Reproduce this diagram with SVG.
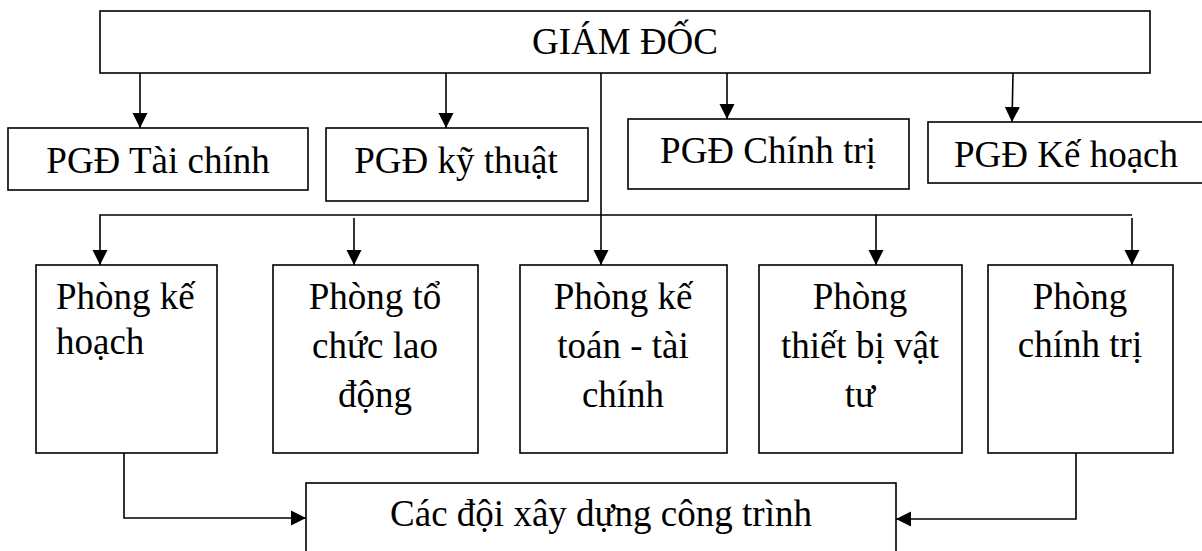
<svg xmlns="http://www.w3.org/2000/svg" width="1202" height="551" viewBox="0 0 1202 551">
  <style>
    .box { fill: #ffffff; stroke: #000000; stroke-width: 1.6; }
    .lbl { font-family: "Liberation Serif", "Times New Roman", serif; font-size: 37px; fill: #000000; }
    .mid { text-anchor: middle; }
    .wire { fill: none; stroke: #000000; stroke-width: 1.6; }
    .arr { marker-end: url(#head); }
  </style>
  <defs>
    <marker id="head" markerUnits="userSpaceOnUse" markerWidth="16" markerHeight="16" viewBox="0 0 16 16" refX="15" refY="8" orient="auto">
      <path d="M0,0.5 L15,8 L0,15.5 Z" fill="#000000"/>
    </marker>
  </defs>

  <!-- connectors -->
  <g id="connectors">
    <!-- director to deputy directors -->
    <line class="wire arr" x1="140" y1="73" x2="140" y2="128"/>
    <line class="wire arr" x1="446" y1="73" x2="446" y2="128"/>
    <line class="wire arr" x1="727" y1="73" x2="727" y2="119"/>
    <line class="wire arr" x1="1013" y1="73" x2="1012" y2="122"/>
    <!-- director trunk down to departments -->
    <line class="wire arr" x1="601" y1="73" x2="601" y2="265"/>
    <polyline class="wire arr" points="1132,215 100,215 100,265"/>
    <line class="wire arr" x1="354" y1="218" x2="354" y2="265"/>
    <line class="wire arr" x1="876" y1="215" x2="876" y2="265"/>
    <line class="wire arr" x1="1132" y1="218" x2="1132" y2="265"/>
    <!-- departments to construction teams -->
    <polyline class="wire arr" points="124,453 124,518 306,518"/>
    <polyline class="wire arr" points="1076,453 1076,519 896,519"/>
  </g>

  <g id="giam-doc">
    <rect class="box" x="100" y="11" width="1050" height="62"/>
    <text class="lbl mid" x="625" y="54">GIÁM ĐỐC</text>
  </g>

  <g id="pgd-tai-chinh">
    <rect class="box" x="8" y="128" width="300" height="62"/>
    <text class="lbl mid" x="158" y="173">PGĐ Tài chính</text>
  </g>
  <g id="pgd-ky-thuat">
    <rect class="box" x="326" y="128" width="262" height="73"/>
    <text class="lbl mid" x="456" y="173">PGĐ kỹ thuật</text>
  </g>
  <g id="pgd-chinh-tri">
    <rect class="box" x="628" y="119" width="281" height="70"/>
    <text class="lbl mid" x="768" y="163">PGĐ Chính trị</text>
  </g>
  <g id="pgd-ke-hoach">
    <rect class="box" x="928" y="122" width="276" height="61"/>
    <text class="lbl mid" x="1066" y="167">PGĐ Kế hoạch</text>
  </g>

  <g id="phong-ke-hoach">
    <rect class="box" x="36" y="265" width="181" height="188"/>
    <text class="lbl" x="56" y="309">Phòng kế</text>
    <text class="lbl" x="56" y="354">hoạch</text>
  </g>
  <g id="phong-to-chuc">
    <rect class="box" x="273" y="265" width="205" height="188"/>
    <text class="lbl mid" x="375" y="309">Phòng tổ</text>
    <text class="lbl mid" x="375" y="358">chức lao</text>
    <text class="lbl mid" x="375" y="407">động</text>
  </g>
  <g id="phong-ke-toan">
    <rect class="box" x="520" y="265" width="207" height="188"/>
    <text class="lbl mid" x="623" y="309">Phòng kế</text>
    <text class="lbl mid" x="623" y="358">toán - tài</text>
    <text class="lbl mid" x="623" y="407">chính</text>
  </g>
  <g id="phong-thiet-bi">
    <rect class="box" x="759" y="265" width="203" height="188"/>
    <text class="lbl mid" x="860" y="309">Phòng</text>
    <text class="lbl mid" x="860" y="358">thiết bị vật</text>
    <text class="lbl mid" x="860" y="407">tư</text>
  </g>
  <g id="phong-chinh-tri">
    <rect class="box" x="988" y="265" width="185" height="188"/>
    <text class="lbl mid" x="1080" y="309">Phòng</text>
    <text class="lbl mid" x="1080" y="357">chính trị</text>
  </g>

  <g id="cac-doi">
    <rect class="box" x="306" y="483" width="590" height="90"/>
    <text class="lbl mid" x="601" y="526">Các đội xây dựng công trình</text>
  </g>
</svg>
